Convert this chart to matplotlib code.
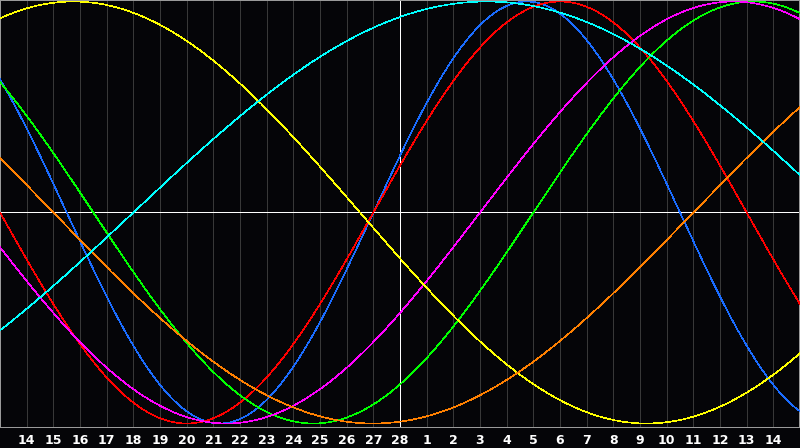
import numpy as np
import matplotlib
matplotlib.use("Agg")
import matplotlib.pyplot as plt

# ---- data ----
day_labels = [14, 15, 16, 17, 18, 19, 20, 21, 22, 23, 24, 25, 26, 27, 28,
              1, 2, 3, 4, 5, 6, 7, 8, 9, 10, 11, 12, 13, 14]
cycle_names = ["physical", "emotional", "intellectual", "intuitive",
               "aesthetic", "awareness", "spiritual"]
cycle_periods = [23, 28, 33, 38, 43, 48, 53]          # days
cycle_day_at_start = [9, 14, 13, 20, 8, 22, 48]        # day within cycle at left edge
today_index = 14                                        # label "28"

# ---- style ----
colors = ["#1a6cff", "#ff0000", "#00ff00", "#ff00ff", "#ffff00", "#ff8000", "#00ffff"]
bg = "#050508"
W, H = 800, 448
px = 72 / 100.0  # one pixel in points at dpi 100

fig = plt.figure(figsize=(W / 100, H / 100), dpi=100, facecolor=bg)
ax_bottom = 21
ax = fig.add_axes([0, ax_bottom / H, 1, (H - ax_bottom) / H])
ax.set_facecolor(bg)

n_days = len(day_labels) + 1
ax.set_xlim(0, n_days)
ax.set_ylim(-1 - 3.5 / 211, 1 + 1.5 / 211)

# grid lines
for i in range(1, n_days):
    if i - 1 == today_index:
        continue
    ax.axvline(i, color="#383838", lw=px, antialiased=False, zorder=1)

# center line and today line
ax.axhline(0, color="white", lw=px, antialiased=False, zorder=2)
ax.axvline(today_index + 1, color="white", lw=px, antialiased=False, zorder=2)

# curves
x = np.linspace(0, n_days, 1200)
for P, d0, c in zip(cycle_periods, cycle_day_at_start, colors):
    y = np.sin(2 * np.pi * (d0 + x) / P)
    ax.plot(x, y, color=c, lw=0.6 * px, antialiased=False, zorder=3)

# frame
for s in ["left", "top", "right"]:
    ax.spines[s].set_color("#9a9a9a")
    ax.spines[s].set_linewidth(2 * px)
ax.spines["bottom"].set_color("#9a9a9a")
ax.spines["bottom"].set_linewidth(px)

ax.set_xticks([i + 1 for i in range(len(day_labels))])
ax.set_xticklabels([str(d) for d in day_labels])
ax.tick_params(axis="x", length=0, pad=5, colors="white", labelsize=9)
for lbl in ax.get_xticklabels():
    lbl.set_fontweight("bold")
    lbl.set_family("DejaVu Sans")
ax.set_yticks([])

fig.savefig("out.png", dpi=100, facecolor=bg)
